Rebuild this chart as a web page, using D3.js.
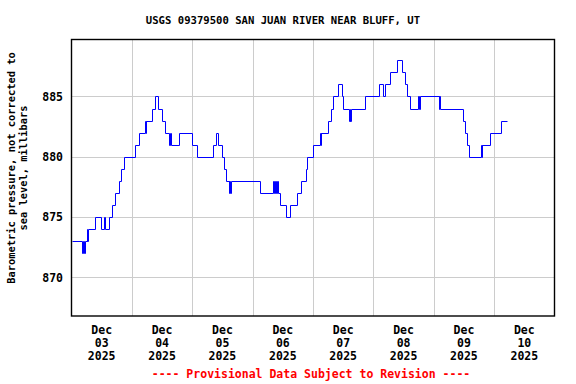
<!DOCTYPE html>
<html>
<head>
<meta charset="utf-8">
<script src="https://cdn.jsdelivr.net/npm/d3@7"></script>
<style>
  body { margin: 0; background: #fff; }
  text { font-family: "DejaVu Sans Mono", monospace; font-weight: bold; }
</style>
</head>
<body>
<div id="chart"></div>
<script>
// hours after Dec 03 2025 00:00 where the reading changes, and the new reading (mb)
var stepHours = [0, 4.2, 4.5, 4.9, 5.2, 6.0, 6.2, 6.4, 9.5, 11.8, 13.0, 13.5, 14.8, 16.2, 17.2, 18.7, 19.8, 20.9,
  25.3, 27.0, 29.2, 29.5, 29.8, 32.1, 33.3, 34.5, 36.1, 37.3, 38.9, 39.2, 39.5, 42.8, 47.8, 50.0,
  56.3, 57.5, 58.4, 59.7, 60.5, 61.4, 62.5, 62.8, 63.0, 63.3, 74.9, 80.2, 80.6, 80.9, 81.3, 81.6, 82.2,
  83.0, 85.1, 87.0, 89.6, 91.4, 93.3, 93.8, 96.0, 98.8, 99.0, 99.3, 102.1, 103.1, 104.1, 105.9, 107.5,
  108.1, 110.2, 110.6, 110.8, 111.3, 116.7, 122.4, 124.0, 124.7, 126.7, 129.3, 131.2, 132.4, 133.3,
  134.4, 137.9, 138.2, 138.5, 145.9, 146.2, 146.5, 155.5, 156.4, 157.2, 158.1, 162.8, 163.0, 163.3,
  166.2, 170.7, 173.1];
var pressure = [873, 872, 873, 872, 873, 874, 873, 874, 875, 874, 875, 874, 875, 876, 877, 878, 879, 880,
  881, 882, 883, 882, 883, 884, 885, 884, 883, 882, 881, 882, 881, 882, 881, 880,
  881, 882, 881, 880, 879, 878, 877, 878, 877, 878, 877, 878, 877, 878, 877, 878, 877,
  876, 875, 876, 877, 878, 879, 880, 881, 882, 881, 882, 883, 884, 885, 886, 885,
  884, 883, 884, 883, 884, 885, 886, 885, 886, 887, 888, 887, 886, 885,
  884, 885, 884, 885, 884, 885, 884, 883, 882, 881, 880, 881, 880, 881,
  882, 883, 883];
var dayLabels = ["03", "04", "05", "06", "07", "08", "09", "10"];
var yTicks = [870, 875, 880, 885];

(function() {

var width = 576, height = 384;
var pLeft = 71.5, pRight = 554.5, pTop = 39.5, pBottom = 316;
var start = Date.UTC(2025, 11, 3);
var hour = 3600 * 1000;

var data = stepHours.map(function(h, i) {
  return { t: new Date(start + h * hour), v: pressure[i] };
});

var x = d3.scaleUtc()
  .domain([new Date(start), new Date(start + 8 * 24 * hour)])
  .range([pLeft, pRight]);

var y = d3.scaleLinear()
  .domain([866.8, 889.72])
  .range([pBottom, pTop]);

var svg = d3.select("#chart")
  .append("svg")
  .attr("width", width)
  .attr("height", height);

// grid
var days = d3.utcDay.range(new Date(start + 24 * hour), new Date(start + 8 * 24 * hour));
svg.append("g").selectAll("line")
  .data(days)
  .enter().append("line")
  .attr("x1", function(d) { return Math.round(x(d)) + 0.5; })
  .attr("x2", function(d) { return Math.round(x(d)) + 0.5; })
  .attr("y1", pTop)
  .attr("y2", pBottom)
  .attr("stroke", "#cccccc")
  .attr("stroke-width", 1);

svg.append("g").selectAll("line")
  .data(yTicks)
  .enter().append("line")
  .attr("x1", pLeft)
  .attr("x2", pRight)
  .attr("y1", function(d) { return Math.round(y(d)) + 0.5; })
  .attr("y2", function(d) { return Math.round(y(d)) + 0.5; })
  .attr("stroke", "#cccccc")
  .attr("stroke-width", 1);

// data line
svg.append("clipPath").attr("id", "plot")
  .append("rect")
  .attr("x", pLeft).attr("y", pTop)
  .attr("width", pRight - pLeft).attr("height", pBottom - pTop);

var line = d3.line()
  .x(function(d) { return Math.round(x(d.t)) + 0.5; })
  .y(function(d) { return Math.round(y(d.v)) + 0.5; })
  .curve(d3.curveStepAfter);

svg.append("path")
  .datum(data)
  .attr("clip-path", "url(#plot)")
  .attr("fill", "none")
  .attr("stroke", "#0000ff")
  .attr("stroke-width", 1)
  .attr("d", line);

// frame
svg.append("rect")
  .attr("x", pLeft)
  .attr("y", pTop)
  .attr("width", pRight - pLeft)
  .attr("height", pBottom - pTop)
  .attr("fill", "none")
  .attr("stroke", "#000")
  .attr("stroke-width", 1.4);

// y tick labels
svg.append("g").selectAll("text")
  .data(yTicks)
  .enter().append("text")
  .attr("x", 63)
  .attr("y", function(d) { return y(d) + 4.4; })
  .attr("text-anchor", "end")
  .style("font-size", "11.5px")
  .text(function(d) { return d; });

// x tick labels, centred on noon of each day
var xl = svg.append("g").selectAll("text")
  .data(dayLabels)
  .enter().append("text")
  .attr("text-anchor", "middle")
  .style("font-size", "11.5px");

xl.each(function(d, i) {
  var cx = x(new Date(start + (i * 24 + 12) * hour));
  var t = d3.select(this);
  t.append("tspan").attr("x", cx).attr("y", 334).text("Dec");
  t.append("tspan").attr("x", cx).attr("y", 347).text(d);
  t.append("tspan").attr("x", cx).attr("y", 360).text("2025");
});

// title
svg.append("text")
  .attr("x", 283)
  .attr("y", 24)
  .attr("text-anchor", "middle")
  .style("font-size", "10.6px")
  .text("USGS 09379500 SAN JUAN RIVER NEAR BLUFF, UT");

// y axis label
var yl = svg.append("text")
  .attr("transform", "translate(0,168) rotate(-90)")
  .attr("text-anchor", "middle")
  .style("font-size", "10.4px");
yl.append("tspan").attr("x", 0).attr("y", 15).text("Barometric pressure, not corrected to");
yl.append("tspan").attr("x", 0).attr("y", 27).text("sea level, millibars");

// footer
svg.append("text")
  .attr("x", 311)
  .attr("y", 378)
  .attr("text-anchor", "middle")
  .attr("fill", "#ff0000")
  .style("font-size", "11.5px")
  .text("---- Provisional Data Subject to Revision ----");

})();
</script>
</body>
</html>
